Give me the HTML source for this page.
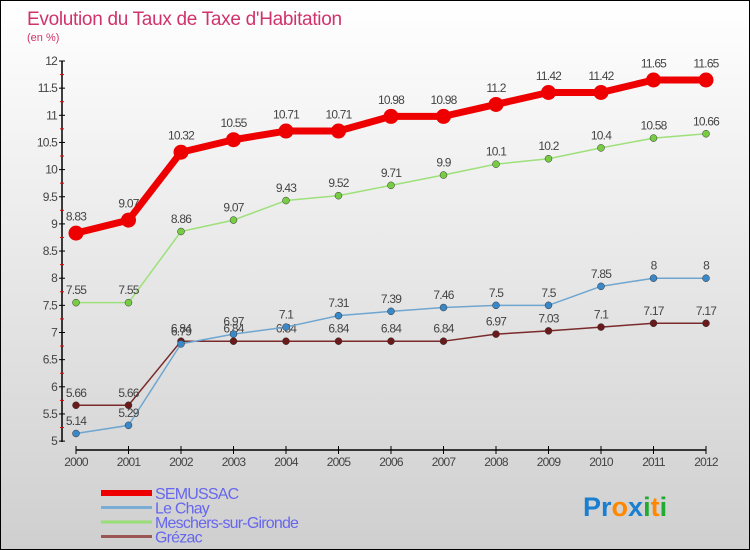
<!DOCTYPE html>
<html><head><meta charset="utf-8"><style>
body{margin:0}
#c{width:750px;height:550px;position:relative;overflow:hidden;box-sizing:border-box;border:1px solid #000;background:linear-gradient(#ffffff,#cfcfcf);font-family:"Liberation Sans",sans-serif}
svg{position:absolute;left:0;top:0}
</style></head><body>
<div id="c">
<svg id="s" width="750" height="550">
<text x="26" y="24" font-size="19" fill="#d0336b" style="letter-spacing:-0.3px">Evolution du Taux de Taxe d'Habitation</text>
<text x="26" y="40" font-size="11" fill="#d0336b">(en %)</text>
</svg>
</div>
<script>
const years=["2000","2001","2002","2003","2004","2005","2006","2007","2008","2009","2010","2011","2012"];
const semussac=[8.83,9.07,10.32,10.55,10.71,10.71,10.98,10.98,11.2,11.42,11.42,11.65,11.65];
const lechay=[5.14,5.29,6.79,6.97,7.1,7.31,7.39,7.46,7.5,7.5,7.85,8,8];
const meschers=[7.55,7.55,8.86,9.07,9.43,9.52,9.71,9.9,10.1,10.2,10.4,10.58,10.66];
const grezac=[5.66,5.66,6.84,6.84,6.84,6.84,6.84,6.84,6.97,7.03,7.1,7.17,7.17];
const yTicks=[5,5.5,6,6.5,7,7.5,8,8.5,9,9.5,10,10.5,11,11.5,12];
const NS="http://www.w3.org/2000/svg";
const s=document.getElementById('s');
const X=i=>75+i*52.5;
const Y=v=>60+(12-v)*54.3;
function mk(t,a,p){const e=document.createElementNS(NS,t);for(const k in a)e.setAttribute(k,a[k]);(p||s).appendChild(e);return e;}
// y axis
let ax=mk('line',{x1:61,y1:60,x2:61,y2:441,stroke:'#000','stroke-width':1.5});


yTicks.forEach(v=>{
  const t=mk('line',{x1:58,y1:Y(v),x2:64,y2:Y(v),stroke:'#000'});
  
  
  if(v<12){const m=mk('line',{x1:59,y1:Y(v+0.25),x2:63,y2:Y(v+0.25),stroke:'#e00'});
  
  }
  const l=mk('text',{x:56,y:Y(v)+4,'font-size':12,'text-anchor':'end',fill:'#444','letter-spacing':'-0.8'});
  l.textContent=String(v);
  
  
});
// x axis
let xa=mk('line',{x1:X(0),y1:449,x2:X(12),y2:449,stroke:'#000','stroke-width':1.5});


years.forEach((y,i)=>{
  const t=mk('line',{x1:X(i),y1:445,x2:X(i),y2:453,stroke:'#000'});
  
  
  const l=mk('text',{x:X(i),y:465,'font-size':12,'text-anchor':'middle',fill:'#444','letter-spacing':'-0.8'});
  l.textContent=y;
  
  
});
function series(d,col,dark,w,r,name){
  const g=mk('g',{});
  
  
  const pl=mk('polyline',{points:d.map((v,i)=>X(i)+','+Y(v)).join(' '),fill:'none',stroke:col,'stroke-width':w,'stroke-linejoin':'round'},g);
  
  
  d.forEach((v,i)=>{
    const c=mk('circle',{cx:X(i),cy:Y(v),r:r,fill:dark,stroke:col==dark?'none':'#333','stroke-width':0.5},g);
    
    
    const l=mk('text',{x:X(i),y:Y(v)-r-5,'font-size':12,'text-anchor':'middle',fill:'#444','letter-spacing':'-0.8'},g);
    l.textContent=String(v);
    
    
  });
}
series(grezac,'#7a2a2a','#6a1a1a',1.5,3.5,'grezac');
series(lechay,'#6fa6d0','#3a88c8',1.5,3.5,'le-chay');
series(meschers,'#9ee07a','#77cc44',1.5,3.5,'meschers');
series(semussac,'#ee0000','#ee0000',7,7.5,'semussac');
// legend
const leg=[["SEMUSSAC","#ee0000",6],["Le Chay","#7aaed4",3],["Meschers-sur-Gironde","#99dd77",3],["Grézac","#9a5555",3]];
leg.forEach((e,i)=>{
  const y=492+i*14.5;
  const ln=mk('line',{x1:100,y1:y,x2:151,y2:y,stroke:e[1],'stroke-width':e[2]});
  
  
  const t=mk('text',{x:154,y:y+6,'font-size':16,fill:'#6666ee','letter-spacing':'-0.8'});
  t.textContent=e[0];
  
  
});
// logo
const lg=mk('text',{x:582,y:515,'font-size':27,'font-weight':'bold'});


[["P","#1a7fd0"],["r","#1a7fd0"],["o","#ff8800"],["x","#1a7fd0"],["i","#22aa33"],["t","#ff8800"],["i","#22aa33"]].forEach(c=>{const sp=mk('tspan',{fill:c[1]},lg);sp.textContent=c[0];});
</script>
</body></html>
